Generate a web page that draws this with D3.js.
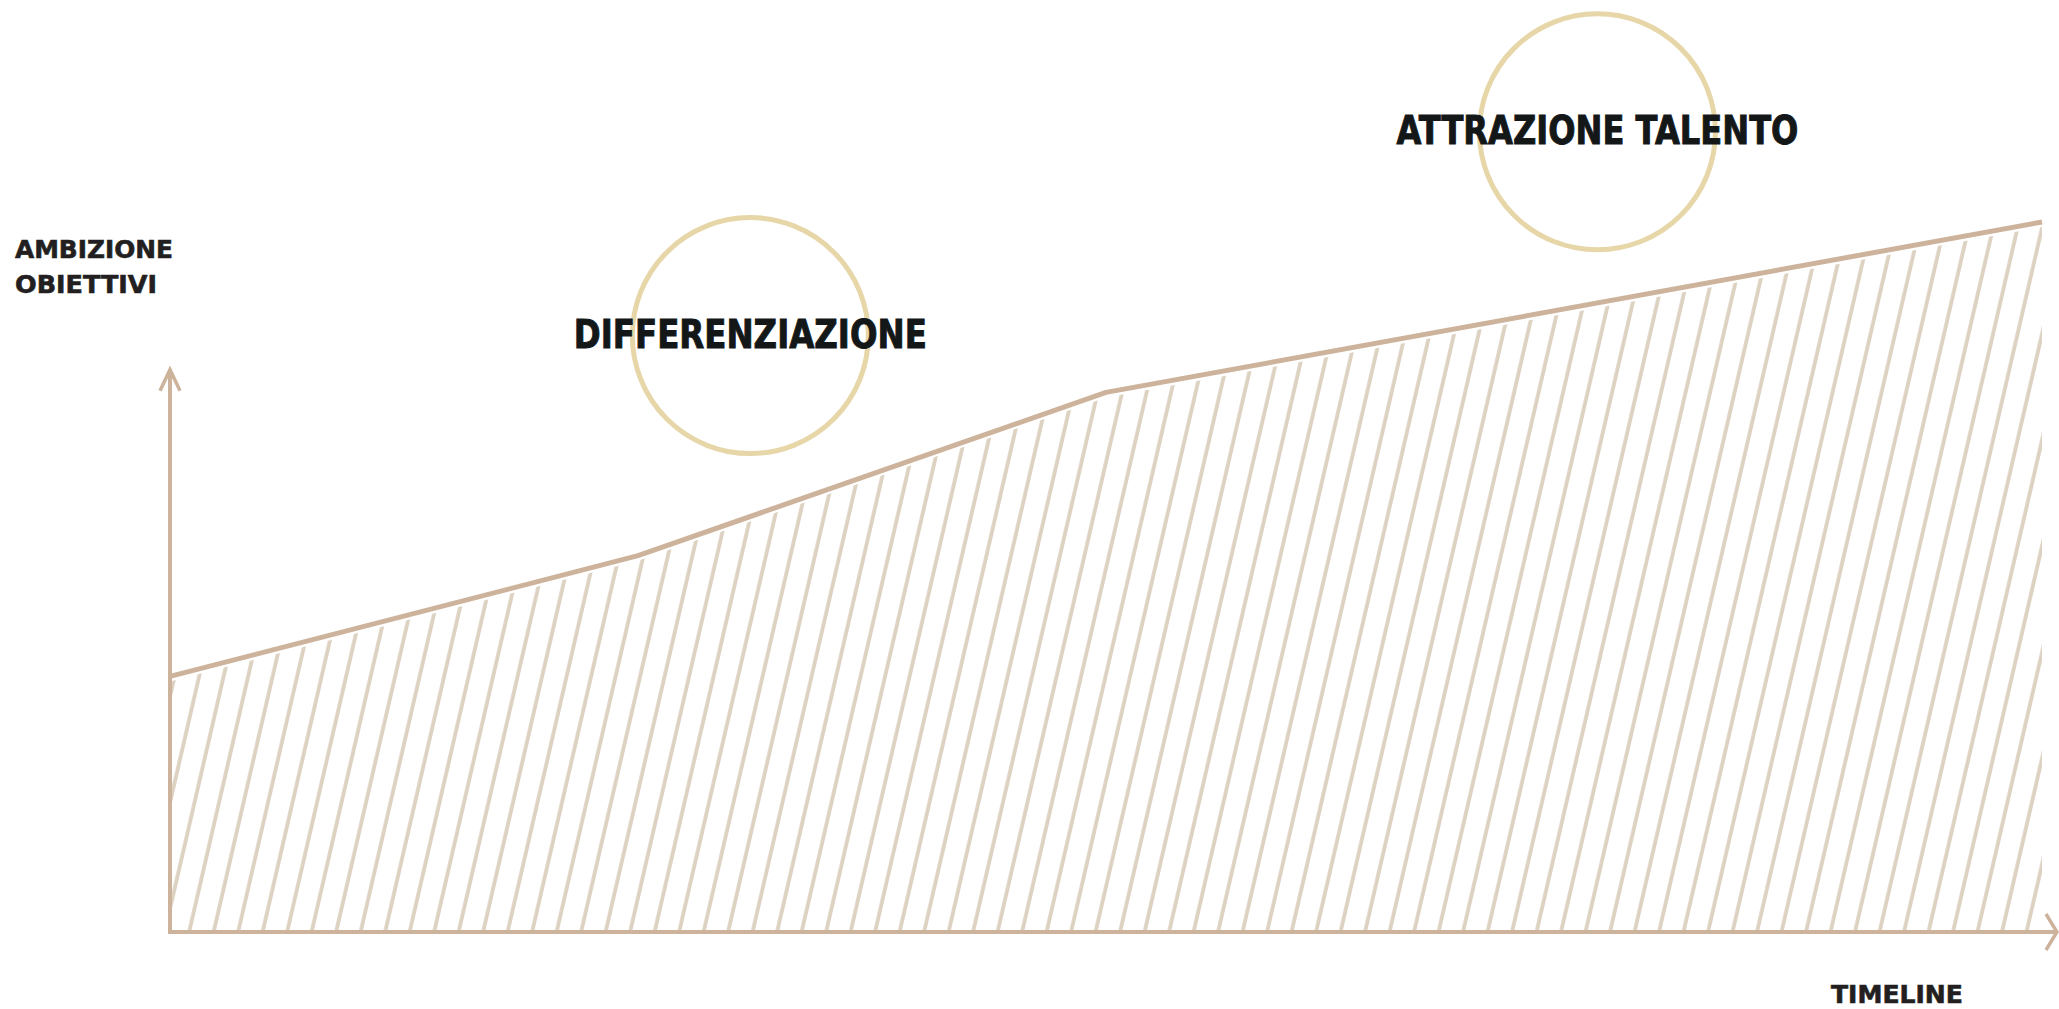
<!DOCTYPE html>
<html>
<head>
<meta charset="utf-8">
<script src="https://cdn.jsdelivr.net/npm/d3@7"></script>
<style>
  html, body { margin: 0; padding: 0; background: #fff; }
  svg { display: block; }
</style>
</head>
<body>
<div id="chart"></div>
<script>
// Ambition curve over the timeline (arbitrary units)
const timeline = [0, 1, 2, 4];
const ambition = [36, 53, 76, 100];

// Milestones drawn as rings with labels
const milestoneLabels = ['DIFFERENZIAZIONE', 'ATTRAZIONE TALENTO'];
const milestoneTime = [1.24, 3.05];
const milestoneLevel = [84, 112.7];

// Axis titles
const yTitle = ['AMBIZIONE', 'OBIETTIVI'];
const xTitle = 'TIMELINE';

const W = 2059, H = 1009;
const LINE_COLOR = '#cdb39b';
const HATCH_COLOR = '#ddd2c1';
const RING_COLOR = '#e6d6a8';

const svg = d3.select('#chart').append('svg')
  .attr('width', W).attr('height', H)
  .attr('viewBox', `0 0 ${W} ${H}`);

const x = d3.scaleLinear().domain([0, 4]).range([170, 2042]);
const y = d3.scaleLinear().domain([0, 100]).range([932, 222]);

// ── Hatch pattern ──
const defs = svg.append('defs');
const pat = defs.append('pattern')
  .attr('id', 'hatch')
  .attr('patternUnits', 'userSpaceOnUse')
  .attr('width', 23.87).attr('height', 40)
  .attr('patternTransform', 'rotate(13)');
pat.append('line')
  .attr('x1', 12).attr('x2', 12)
  .attr('y1', -5).attr('y2', 45)
  .attr('stroke', HATCH_COLOR)
  .attr('stroke-width', 3.8);

const pts = timeline.map((t, i) => ({ t, v: ambition[i] }));

// area under the curve, pulled a few px below the line so the hatch leaves a gap
const area = d3.area()
  .x(d => x(d.t))
  .y0(y(0))
  .y1(d => y(d.v) + 5);

svg.append('path')
  .attr('d', area(pts))
  .attr('fill', 'url(#hatch)');

// ── Axes ──
const axisG = svg.append('g')
  .attr('fill', 'none')
  .attr('stroke', LINE_COLOR)
  .attr('stroke-width', 4);

const yTop = 79.2;   // top of the vertical arrow, in value units
const xEnd = 4.032;  // end of the horizontal arrow, in timeline units

axisG.append('line')
  .attr('x1', x(0)).attr('x2', x(0))
  .attr('y1', y(0) + 2).attr('y2', y(yTop));
axisG.append('path')
  .attr('d', `M${x(0) - 10},${y(yTop) + 21}L${x(0)},${y(yTop)}L${x(0) + 10},${y(yTop) + 21}`)
  .attr('stroke-width', 3.5);

axisG.append('line')
  .attr('x1', x(0) - 2).attr('x2', x(xEnd))
  .attr('y1', y(0)).attr('y2', y(0));
axisG.append('path')
  .attr('d', `M${x(xEnd) - 11},${y(0) - 18}L${x(xEnd)},${y(0)}L${x(xEnd) - 11},${y(0) + 18}`)
  .attr('stroke-width', 3.5);

// ── Ambition line ──
const line = d3.line().x(d => x(d.t)).y(d => y(d.v));
svg.append('path')
  .attr('d', line(pts))
  .attr('fill', 'none')
  .attr('stroke', LINE_COLOR)
  .attr('stroke-width', 5)
  .attr('stroke-linejoin', 'round');

// ── Milestones ──
const ms = milestoneLabels.map((label, i) => ({
  label, t: milestoneTime[i], v: milestoneLevel[i]
}));
const labelWidths = [353, 402];

const mg = svg.selectAll('.milestone')
  .data(ms)
  .enter().append('g')
  .attr('class', 'milestone')
  .attr('transform', d => `translate(${x(d.t)},${y(d.v)})`);

mg.append('circle')
  .attr('r', 118)
  .attr('fill', 'none')
  .attr('stroke', RING_COLOR)
  .attr('stroke-width', 5);

mg.append('text')
  .attr('text-anchor', 'middle')
  .attr('y', 12)
  .attr('font-family', 'DejaVu Sans, Verdana, sans-serif')
  .attr('font-weight', 700)
  .attr('font-size', 39)
  .attr('fill', '#131718')
  .attr('stroke', '#131718')
  .attr('stroke-width', 1)
  .attr('textLength', (d, i) => labelWidths[i])
  .attr('lengthAdjust', 'spacingAndGlyphs')
  .text(d => d.label);

// ── Axis titles ──
const titleStyle = sel => sel
  .attr('font-family', 'DejaVu Sans, Verdana, sans-serif')
  .attr('font-weight', 700)
  .attr('font-size', 24)
  .attr('fill', '#231f20')
  .attr('stroke', '#231f20')
  .attr('stroke-width', 0.6)
  .attr('lengthAdjust', 'spacingAndGlyphs');

svg.selectAll('.ytitle')
  .data(yTitle)
  .enter().append('text')
  .attr('class', 'ytitle')
  .attr('x', 15)
  .attr('y', (d, i) => 258 + i * 35)
  .attr('textLength', (d, i) => [158, 142][i])
  .call(titleStyle)
  .text(d => d);

svg.append('text')
  .attr('x', 1831)
  .attr('y', 1003)
  .attr('textLength', 132)
  .call(titleStyle)
  .text(xTitle);
</script>
</body>
</html>
